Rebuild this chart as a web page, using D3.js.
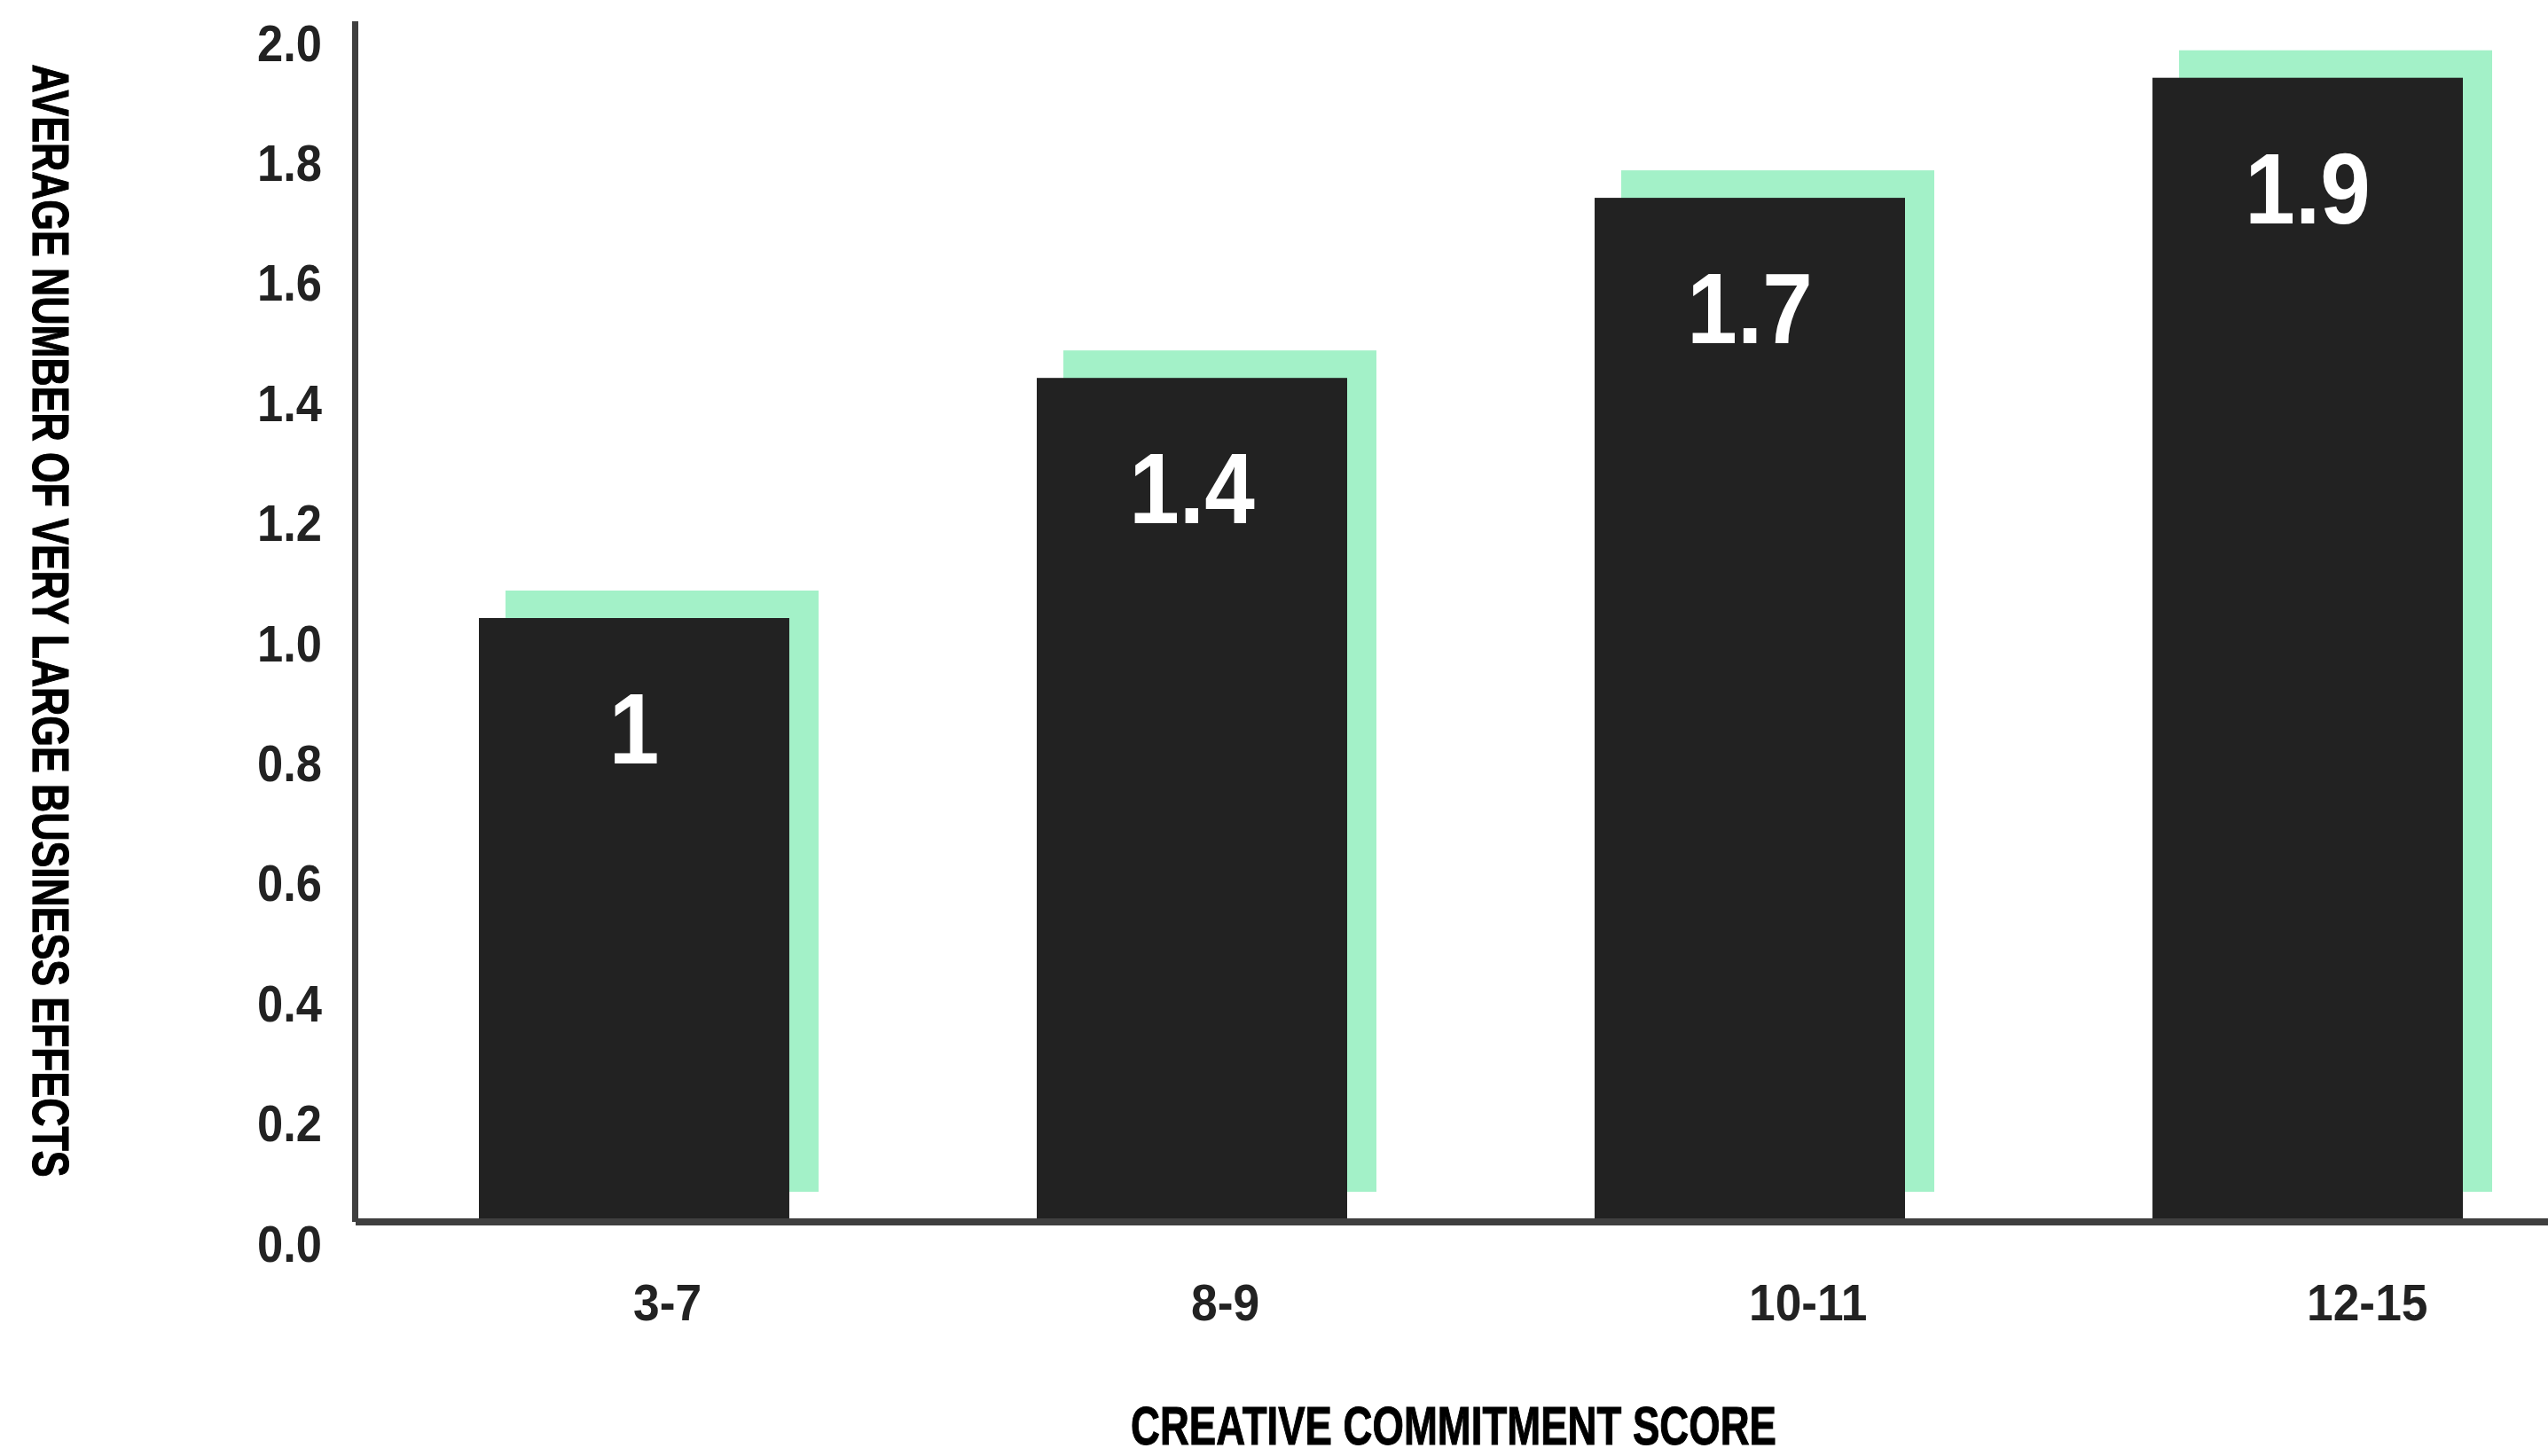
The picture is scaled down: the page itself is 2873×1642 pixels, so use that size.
<!DOCTYPE html>
<html>
<head>
<meta charset="utf-8">
<script src="https://cdn.jsdelivr.net/npm/d3@7"></script>
<style>
  html, body { margin: 0; padding: 0; background: #ffffff; }
  svg { display: block; }
</style>
</head>
<body>
<svg id="chart" width="2873" height="1642"></svg>
<script>
const categories = ["3-7", "8-9", "10-11", "12-15"];
const values = [1.0, 1.4, 1.7, 1.9];
const valueLabels = ["1", "1.4", "1.7", "1.9"];
const yTicks = [0, 0.2, 0.4, 0.6, 0.8, 1.0, 1.2, 1.4, 1.6, 1.8, 2.0];
const yTitle = "AVERAGE NUMBER OF VERY LARGE BUSINESS EFFECTS";
const xTitle = "CREATIVE COMMITMENT SCORE";

const svg = d3.select("#chart");
const W = 2873, H = 1642;
svg.append("rect").attr("width", W).attr("height", H).attr("fill", "#ffffff");

const x = d3.scaleBand()
  .domain(categories)
  .range([404, 2913])
  .paddingInner(0.4436)
  .paddingOuter(0.2162);

const y = d3.scaleLinear().domain([0, 2]).range([1374, 20]);

const FONT = "'Liberation Sans', Arial, Helvetica, sans-serif";
const CFONT = "'Liberation Sans Narrow', 'Liberation Sans', sans-serif";

// shadow (green) bars
svg.append("g").selectAll("rect")
  .data(values)
  .join("rect")
  .attr("x", (d, i) => x(categories[i]) + 30)
  .attr("y", d => y(d) - 31)
  .attr("width", x.bandwidth() + 3)
  .attr("height", d => y(0) - y(d) + 1)
  .attr("fill", "#a3f1c8");

// main dark bars
svg.append("g").selectAll("rect")
  .data(values)
  .join("rect")
  .attr("x", (d, i) => x(categories[i]))
  .attr("y", d => y(d))
  .attr("width", x.bandwidth())
  .attr("height", d => y(0) - y(d))
  .attr("fill", "#222222");

// value labels
svg.append("g").selectAll("text")
  .data(values)
  .join("text")
  .attr("transform", (d, i) => `translate(${x(categories[i]) + x.bandwidth() / 2},${y(d) + 164}) scale(0.9,1)`)
  .attr("text-anchor", "middle")
  .attr("font-family", FONT)
  .attr("font-weight", "bold")
  .attr("font-size", 113)
  .attr("fill", "#ffffff")
  .text((d, i) => valueLabels[i]);

// y axis ticks (labels only)
const yAxis = d3.axisLeft(y)
  .tickValues(yTicks)
  .tickFormat(d3.format(".1f"))
  .tickSize(0)
  .tickPadding(0);
const gy = svg.append("g").attr("transform", "translate(363,0)").call(yAxis);
gy.select(".domain").remove();
gy.selectAll("text")
  .attr("dy", 48)
  .attr("font-family", FONT)
  .attr("font-weight", "bold")
  .attr("font-size", 57)
  .attr("fill", "#222222")
  .attr("textLength", 73)
  .attr("lengthAdjust", "spacingAndGlyphs");

// x category labels (start-anchored at band centre)
svg.append("g").selectAll("text")
  .data(categories)
  .join("text")
  .attr("transform", d => `translate(${x(d) + x.bandwidth() / 2 - 1},1489) scale(0.92,1)`)
  .attr("text-anchor", "start")
  .attr("font-family", FONT)
  .attr("font-weight", "bold")
  .attr("font-size", 58)
  .attr("fill", "#222222")
  .text(d => d);

// axis lines
svg.append("line")
  .attr("x1", 400.5).attr("x2", 400.5)
  .attr("y1", 24).attr("y2", 1378)
  .attr("stroke", "#3f3f3f").attr("stroke-width", 7);
svg.append("line")
  .attr("x1", 401).attr("x2", W)
  .attr("y1", 1378).attr("y2", 1378)
  .attr("stroke", "#3f3f3f").attr("stroke-width", 8);

// axis titles: condensed by scaling to the measured width
function condensedTitle(str, size, targetLen, place) {
  const t = svg.append("text")
    .attr("text-anchor", "middle")
    .attr("font-family", CFONT)
    .attr("font-weight", "bold")
    .attr("font-size", size)
    .attr("fill", "#000000")
    .attr("stroke", "#000000")
    .attr("stroke-width", 1.1)
    .text(str);
  const natural = t.node().getComputedTextLength() || targetLen;
  const sx = targetLen / natural;
  t.attr("transform", place + ` scale(${sx},1)`);
  return t;
}
condensedTitle(yTitle, 58, 1255, "translate(37,700) rotate(90)");
condensedTitle(xTitle, 62, 728, "translate(1639,1629)");
</script>
</body>
</html>
